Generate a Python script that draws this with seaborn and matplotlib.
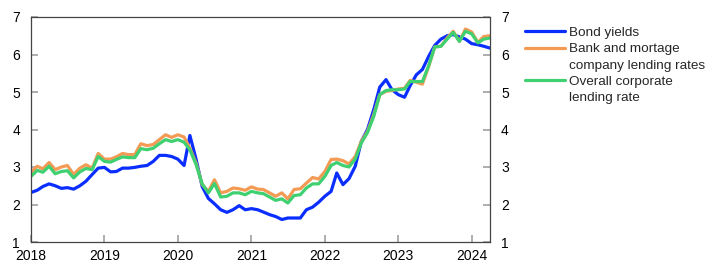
import numpy as np
import pandas as pd
import matplotlib
matplotlib.use("Agg")
import matplotlib.pyplot as plt
import seaborn as sns
from matplotlib.lines import Line2D

dates = pd.date_range("2018-01-01", "2024-04-01", freq="MS")

bond_yields = [
    2.32, 2.38, 2.48, 2.55, 2.50, 2.43, 2.45, 2.41, 2.50, 2.62, 2.80, 2.97,
    2.99, 2.87, 2.88, 2.97, 2.97, 2.99, 3.02, 3.04, 3.15, 3.31, 3.31, 3.28,
    3.21, 3.04, 3.84, 3.20, 2.48, 2.16, 2.02, 1.86, 1.79, 1.86, 1.97, 1.86,
    1.89, 1.86, 1.80, 1.73, 1.68, 1.60, 1.64, 1.64, 1.64, 1.86, 1.93, 2.06,
    2.22, 2.35, 2.84, 2.53, 2.69, 3.02, 3.68, 4.00, 4.53, 5.13, 5.33, 5.06,
    4.93, 4.86, 5.17, 5.46, 5.60, 5.95, 6.24, 6.41, 6.50, 6.53, 6.47, 6.41,
    6.29, 6.26, 6.22, 6.17,
]
bank_lending = [
    2.86, 3.02, 2.95, 3.12, 2.93, 3.00, 3.04, 2.80, 2.97, 3.06, 2.97, 3.36,
    3.21, 3.21, 3.27, 3.36, 3.33, 3.33, 3.62, 3.57, 3.60, 3.73, 3.86, 3.79,
    3.86, 3.80, 3.50, 3.10, 2.53, 2.35, 2.66, 2.31, 2.35, 2.44, 2.42, 2.38,
    2.47, 2.41, 2.40, 2.31, 2.22, 2.31, 2.15, 2.40, 2.42, 2.57, 2.72, 2.68,
    2.88, 3.20, 3.21, 3.17, 3.08, 3.28, 3.68, 3.95, 4.40, 4.93, 5.02, 5.04,
    5.08, 5.10, 5.31, 5.26, 5.21, 5.68, 6.20, 6.22, 6.44, 6.62, 6.35, 6.68,
    6.60, 6.32, 6.48, 6.50,
]
corporate_lending = [
    2.75, 2.91, 2.86, 3.02, 2.82, 2.88, 2.90, 2.71, 2.87, 2.96, 2.93, 3.28,
    3.15, 3.13, 3.20, 3.27, 3.25, 3.25, 3.49, 3.46, 3.50, 3.62, 3.73, 3.68,
    3.73, 3.66, 3.46, 3.06, 2.55, 2.31, 2.56, 2.20, 2.22, 2.31, 2.31, 2.26,
    2.35, 2.31, 2.29, 2.20, 2.11, 2.15, 2.04, 2.24, 2.26, 2.44, 2.55, 2.55,
    2.75, 3.04, 3.12, 3.04, 3.00, 3.21, 3.64, 3.92, 4.35, 4.93, 5.04, 5.06,
    5.06, 5.08, 5.28, 5.28, 5.28, 5.70, 6.20, 6.22, 6.41, 6.59, 6.35, 6.62,
    6.55, 6.31, 6.41, 6.44,
]

series_names = ["Bond yields", "Bank and mortage", "Overall corporate"]
legend_labels = [
    ("Bond yields", None),
    ("Bank and mortage", "company lending rates"),
    ("Overall corporate", "lending rate"),
]
colors = ["#0a2eff", "#f39a55", "#3fd072"]
year_ticks = list(range(2018, 2025))
y_ticks = [1, 2, 3, 4, 5, 6, 7]

df = pd.DataFrame({
    "date": np.tile(dates, 3),
    "value": bond_yields + bank_lending + corporate_lending,
    "series": np.repeat(series_names, len(dates)),
})

sns.set_theme(style="white")
plt.rcParams["font.family"] = ["Liberation Sans", "DejaVu Sans"]

fig = plt.figure(figsize=(7.22, 2.78), dpi=100)
ax = fig.add_axes([31 / 722, 1 - 242 / 278, (490 - 31) / 722, (242 - 17) / 278])

sns.lineplot(data=df, x="date", y="value", hue="series", hue_order=series_names,
             palette=colors, linewidth=2.3, ax=ax, legend=False)

ax.set_xlim(pd.Timestamp("2018-01-01"), pd.Timestamp("2024-04-01"))
ax.set_ylim(1, 7)
ax.set_xticks([pd.Timestamp(f"{y}-01-01") for y in year_ticks])
ax.set_xticklabels([str(y) for y in year_ticks])
ax.set_yticks(y_ticks)
ax.set_xlabel("")
ax.set_ylabel("")

for s in ax.spines.values():
    s.set_color("#444444")
    s.set_linewidth(0.9)

ax.tick_params(axis="both", direction="in", length=5, width=1.2, color="#a0a0a0",
               labelsize=10, labelcolor="black")
ax.tick_params(axis="y", left=True, right=True, labelleft=True, labelright=True, pad=8)
ax.tick_params(axis="x", bottom=True, pad=5)

handles, labels = [], []
for (first, second), c in zip(legend_labels, colors):
    handles.append(Line2D([], [], color=c, linewidth=2.3))
    labels.append(first)
    if second:
        handles.append(Line2D([], [], color="none", linewidth=0))
        labels.append(second)

leg = fig.legend(handles, labels, loc="upper left", bbox_to_anchor=(525 / 722, 1 - 26.5 / 278),
                 frameon=False, fontsize=9.7, handlelength=3.0, handletextpad=0.25,
                 labelspacing=0.29, borderpad=0, borderaxespad=0)

fig.savefig("out.png", dpi=100)
